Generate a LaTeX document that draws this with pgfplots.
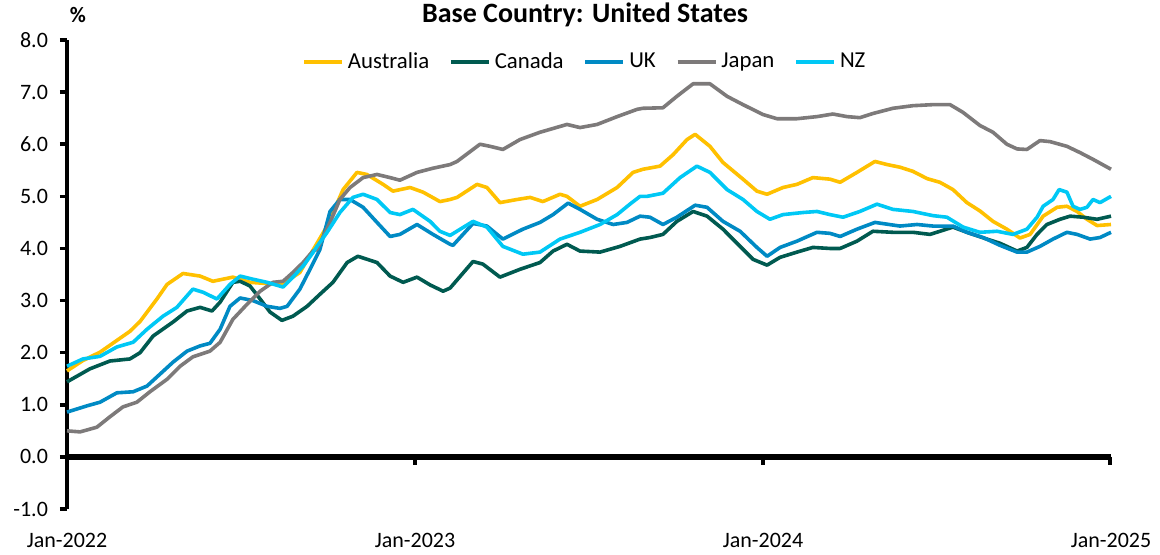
\documentclass[border=0pt]{standalone}
\usepackage{pgfplots}
\pgfplotsset{compat=1.18}
\usepackage{fontspec}
\setmainfont{Carlito}
\definecolor{cAus}{RGB}{255,192,0}
\definecolor{cCan}{RGB}{0,90,80}
\definecolor{cUK}{RGB}{0,138,196}
\definecolor{cJap}{RGB}{125,122,122}
\definecolor{cNZ}{RGB}{0,200,245}
\begin{document}
\begin{tikzpicture}
\useasboundingbox (-33.5pt,-22.5pt) rectangle (546.5pt,254.5pt);
\begin{axis}[
  name=ax,
  scale only axis,
  width=522pt, height=234.5pt,
  xmin=0, xmax=36, ymin=-1, ymax=8,
  axis y line=left, axis x line*=bottom,
  x axis line style={draw=none},
  y axis line style={-, line width=2pt, black},
  tick align=outside,
  xtick={0,12,24,36},
  xticklabels={Jan-2022,Jan-2023,Jan-2024,Jan-2025},
  xtick style={draw=none},
  ytick={-1,0,1,2,3,4,5,6,7,8},
  yticklabels={-1.0,0.0,1.0,2.0,3.0,4.0,5.0,6.0,7.0,8.0},
  ytick style={line width=1.8pt, black},
  major tick length=3.5pt,
  tick label style={font=\fontsize{11}{13}\selectfont},
  yticklabel style={xshift=-2.5pt},
  xticklabel style={yshift=-5pt},
  clip=false,
  legend columns=5,
  legend style={at={(0.497,0.953)}, anchor=center, draw=none, fill=none,
    font=\fontsize{11.4}{13}\selectfont,
    /tikz/every even column/.append style={column sep=8pt}},
  legend image code/.code={\draw[#1] (0pt,0pt) -- (19pt,0pt);},
]
\addplot[draw=black, line width=3pt, forget plot] coordinates {(0,0) (36,0)};
\addplot[draw=black, line width=2pt, forget plot] coordinates {(12,0) (12,-0.15)};
\addplot[draw=black, line width=2pt, forget plot] coordinates {(24,0) (24,-0.15)};
\addplot[draw=black, line width=2pt, forget plot] coordinates {(35.96,0) (35.96,-0.15)};
\addplot[cAus, line width=1.8pt, line join=round] coordinates {
(0,1.65) (0.55,1.85) (1.14,2.01) (2.17,2.41) (2.52,2.6) (3.10,3.03) (3.45,3.31) (4.00,3.52) (4.59,3.47) (5.03,3.37) (5.72,3.45) (6.31,3.35) (7.34,3.31) (7.79,3.45) (8.03,3.54) (8.97,4.43) (9.52,5.13) (10.00,5.46) (10.34,5.42) (10.90,5.23) (11.24,5.1) (11.83,5.17) (12.28,5.08) (12.86,4.9) (13.21,4.94) (13.45,4.98) (14.14,5.23) (14.48,5.17) (14.93,4.88) (15.52,4.94) (15.97,4.98) (16.41,4.9) (17.00,5.04) (17.24,5.0) (17.69,4.81) (18.28,4.94) (18.97,5.17) (19.52,5.46) (19.86,5.52) (20.45,5.58) (20.90,5.80) (21.38,6.09) (21.66,6.19) (22.17,5.96) (22.62,5.65) (23.31,5.33) (23.79,5.1) (24.14,5.04) (24.69,5.17) (25.17,5.23) (25.72,5.36) (26.31,5.33) (26.66,5.27) (27.24,5.46) (27.86,5.67) (28.28,5.61) (28.72,5.56) (29.17,5.48) (29.66,5.34) (30.10,5.27) (30.55,5.13) (31.03,4.88) (31.48,4.72) (31.93,4.52) (32.41,4.37) (32.86,4.2) (33.21,4.27) (33.66,4.62) (34.14,4.79) (34.48,4.81) (34.83,4.71) (35.17,4.56) (35.52,4.44) (36,4.46)
};
\addlegendentry{Australia}
\addplot[cCan, line width=1.8pt, line join=round] coordinates {
(0,1.44) (0.79,1.69) (1.48,1.84) (2.17,1.88) (2.52,2.0) (2.97,2.32) (3.66,2.59) (4.14,2.8) (4.59,2.87) (5.00,2.8) (5.28,2.97) (5.72,3.35) (5.97,3.37) (6.31,3.28) (6.66,3.03) (7.00,2.78) (7.41,2.62) (7.79,2.7) (8.28,2.89) (8.72,3.12) (9.17,3.35) (9.66,3.73) (10.03,3.85) (10.69,3.73) (11.14,3.47) (11.59,3.35) (12.07,3.45) (12.52,3.3) (12.97,3.18) (13.21,3.24) (14.00,3.75) (14.34,3.7) (14.93,3.45) (15.62,3.6) (16.31,3.73) (16.76,3.95) (17.24,4.08) (17.69,3.95) (18.38,3.93) (19.07,4.04) (19.76,4.18) (20.10,4.21) (20.55,4.27) (21.03,4.52) (21.59,4.71) (22.07,4.62) (22.62,4.37) (23.21,4.04) (23.66,3.79) (24.14,3.68) (24.59,3.83) (25.17,3.93) (25.72,4.02) (26.31,4.0) (26.66,4.0) (27.24,4.14) (27.79,4.33) (28.48,4.31) (29.17,4.31) (29.76,4.27) (30.10,4.33) (30.55,4.41) (31.03,4.31) (31.72,4.18) (32.17,4.1) (32.76,3.95) (33.10,4.02) (33.45,4.27) (33.79,4.46) (34.24,4.56) (34.59,4.62) (35.03,4.6) (35.52,4.56) (36,4.62)
};
\addlegendentry{Canada}
\addplot[cUK, line width=1.8pt, line join=round] coordinates {
(0,0.86) (0.69,0.98) (1.14,1.05) (1.72,1.23) (2.28,1.25) (2.76,1.36) (3.21,1.59) (3.66,1.82) (4.14,2.03) (4.59,2.13) (4.93,2.18) (5.28,2.45) (5.62,2.89) (5.97,3.05) (6.41,3.0) (6.90,2.89) (7.34,2.85) (7.59,2.89) (8.03,3.22) (8.38,3.6) (8.72,3.98) (9.07,4.71) (9.41,4.94) (9.76,4.94) (10.21,4.79) (10.69,4.5) (11.14,4.23) (11.48,4.27) (12.07,4.46) (12.62,4.27) (13.21,4.08) (13.31,4.06) (14.00,4.48) (14.48,4.43) (15.03,4.18) (15.72,4.37) (16.31,4.5) (16.76,4.65) (17.28,4.87) (17.69,4.75) (18.28,4.56) (18.83,4.46) (19.31,4.5) (19.76,4.62) (20.10,4.6) (20.55,4.46) (21.03,4.6) (21.66,4.83) (22.07,4.79) (22.62,4.52) (23.21,4.33) (23.79,4.02) (24.14,3.85) (24.59,4.02) (25.17,4.14) (25.86,4.31) (26.31,4.29) (26.66,4.23) (27.24,4.37) (27.86,4.5) (28.72,4.43) (29.31,4.46) (29.86,4.43) (30.55,4.43) (31.03,4.31) (31.59,4.21) (32.17,4.06) (32.76,3.93) (33.10,3.93) (33.55,4.04) (34.00,4.18) (34.48,4.31) (34.83,4.27) (35.28,4.18) (35.62,4.21) (36,4.31)
};
\addlegendentry{UK}
\addplot[cJap, line width=1.8pt, line join=round] coordinates {
(0,0.5) (0.45,0.48) (1.03,0.57) (1.48,0.77) (1.93,0.96) (2.41,1.05) (2.86,1.25) (3.45,1.49) (3.90,1.74) (4.34,1.92) (4.93,2.03) (5.28,2.2) (5.72,2.64) (6.21,2.93) (6.66,3.18) (7.10,3.35) (7.45,3.37) (7.79,3.54) (8.14,3.73) (8.48,3.95) (8.62,3.98) (9.07,4.5) (9.41,4.94) (9.76,5.17) (10.21,5.36) (10.69,5.42) (11.14,5.36) (11.48,5.31) (12.07,5.46) (12.62,5.54) (13.21,5.61) (13.45,5.67) (14.24,6.0) (14.59,5.96) (15.03,5.9) (15.62,6.09) (16.31,6.23) (17.24,6.38) (17.69,6.32) (18.28,6.38) (18.97,6.53) (19.66,6.67) (19.86,6.69) (20.55,6.7) (21.03,6.92) (21.59,7.16) (22.17,7.16) (22.76,6.92) (23.31,6.76) (24.00,6.57) (24.48,6.49) (25.17,6.49) (25.86,6.53) (26.41,6.58) (26.90,6.53) (27.34,6.51) (27.79,6.59) (28.48,6.69) (29.17,6.74) (29.86,6.76) (30.45,6.76) (30.90,6.61) (31.48,6.36) (31.93,6.23) (32.41,6.0) (32.76,5.91) (33.10,5.9) (33.55,6.07) (33.90,6.05) (34.48,5.96) (34.93,5.84) (35.38,5.71) (36,5.52)
};
\addlegendentry{Japan}
\addplot[cNZ, line width=1.8pt, line join=round] coordinates {
(0,1.74) (0.55,1.88) (1.14,1.93) (1.72,2.11) (2.28,2.2) (2.76,2.45) (3.31,2.7) (3.79,2.87) (4.34,3.22) (4.69,3.16) (5.17,3.03) (5.62,3.31) (5.97,3.47) (6.41,3.41) (6.90,3.35) (7.45,3.26) (7.79,3.45) (8.14,3.66) (8.48,3.92) (8.62,4.04) (8.97,4.31) (9.41,4.69) (9.86,4.98) (10.21,5.04) (10.69,4.94) (11.14,4.69) (11.48,4.65) (11.93,4.75) (12.52,4.52) (12.86,4.33) (13.21,4.25) (14.00,4.52) (14.48,4.41) (15.03,4.04) (15.72,3.89) (16.31,3.93) (17.00,4.18) (17.69,4.31) (18.38,4.46) (18.97,4.65) (19.41,4.85) (19.76,5.0) (20.00,5.0) (20.55,5.06) (21.14,5.36) (21.72,5.58) (22.17,5.46) (22.76,5.13) (23.31,4.94) (23.79,4.71) (24.24,4.56) (24.69,4.65) (25.38,4.69) (25.86,4.71) (26.31,4.65) (26.76,4.6) (27.34,4.71) (27.93,4.85) (28.48,4.75) (29.17,4.71) (29.86,4.63) (30.34,4.6) (30.90,4.41) (31.48,4.31) (32.07,4.33) (32.62,4.27) (33.10,4.37) (33.45,4.6) (33.66,4.81) (34.00,4.94) (34.21,5.13) (34.48,5.08) (34.69,4.81) (34.93,4.75) (35.17,4.79) (35.38,4.94) (35.62,4.88) (36,5.0)
};
\addlegendentry{NZ}
\end{axis}
\node[anchor=base, font=\bfseries\fontsize{14}{16}\selectfont] at ([xshift=-2pt,yshift=9pt]ax.north) {Base Country: United States};
\node[anchor=base, font=\bfseries\fontsize{11}{13}\selectfont] at ([xshift=5.5pt,yshift=9pt]ax.north west) {\%};
\end{tikzpicture}
\end{document}
